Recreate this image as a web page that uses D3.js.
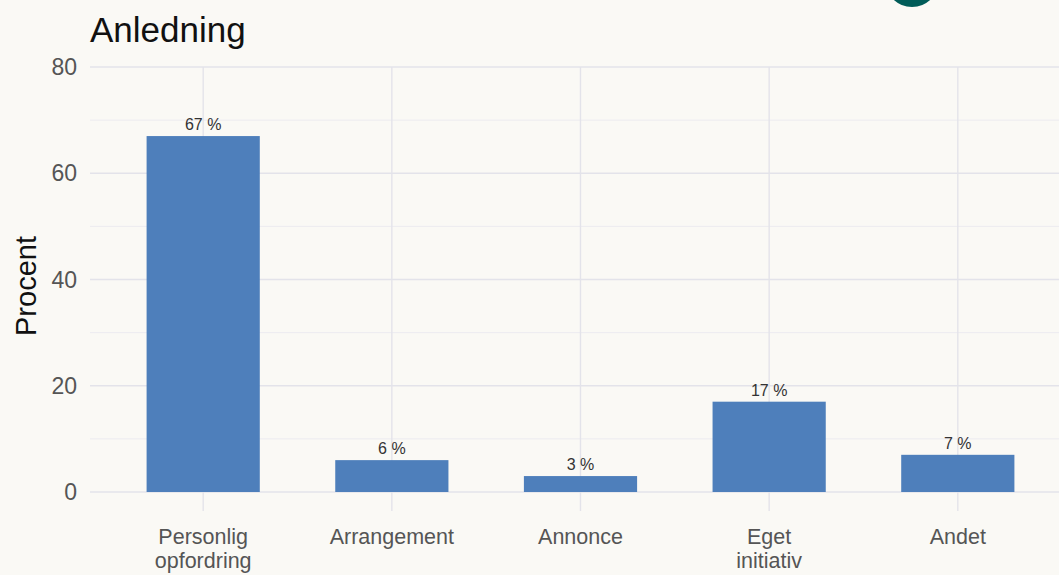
<!DOCTYPE html>
<html>
<head>
<meta charset="utf-8">
<script src="https://cdn.jsdelivr.net/npm/d3@7"></script>
<style>
  body { margin: 0; background: #faf9f5; }
  svg { display: block; font-family: "Liberation Sans", Arial, sans-serif; }
</style>
</head>
<body>
<svg id="chart" width="1059" height="575"></svg>
<script>
const categories = ["Personlig\nopfordring", "Arrangement", "Annonce", "Eget\ninitiativ", "Andet"]
const values = [67, 6, 3, 17, 7]
const yTicks = [0, 20, 40, 60, 80]
const yMinor = [10, 30, 50, 70]

const drawChart = () => {
    let svg = d3.select("#chart"),
        width = +svg.attr("width"),
        height = +svg.attr("height");

    let left = 90, right = 1071, top = 67, bottom = 492

    svg.append("rect").attr("width", width).attr("height", height).attr("fill", "#faf9f5")

    // ggplot-style discrete axis: 0.6 step expansion each side
    let step = (right - left) / (categories.length - 1 + 1.2)
    let x = d3.scalePoint()
        .domain(categories)
        .range([left + 0.6 * step, right - 0.6 * step])
    let barW = step * 0.6

    let y = d3.scaleLinear().domain([0, 80]).range([bottom, top])

    let grid = svg.append("g")
    grid.selectAll(".minor")
        .data(yMinor).enter()
        .append("line")
        .attr("x1", left).attr("x2", right)
        .attr("y1", d => y(d)).attr("y2", d => y(d))
        .attr("stroke", "#ecebf0")
        .attr("stroke-width", 1)
    grid.selectAll(".major")
        .data(yTicks).enter()
        .append("line")
        .attr("x1", left).attr("x2", right)
        .attr("y1", d => y(d)).attr("y2", d => y(d))
        .attr("stroke", "#e3e3ea")
        .attr("stroke-width", 1.4)
    grid.selectAll(".vert")
        .data(categories).enter()
        .append("line")
        .attr("x1", d => x(d)).attr("x2", d => x(d))
        .attr("y1", top).attr("y2", bottom + 19)
        .attr("stroke", "#e3e3ea")
        .attr("stroke-width", 1.4)

    svg.selectAll(".bar")
        .data(values).enter()
        .append("rect")
        .attr("x", (d, i) => x(categories[i]) - barW / 2)
        .attr("width", barW)
        .attr("y", d => y(d))
        .attr("height", d => y(0) - y(d))
        .attr("fill", "#4e7fbb")

    svg.selectAll(".lbl")
        .data(values).enter()
        .append("text")
        .attr("x", (d, i) => x(categories[i]))
        .attr("y", d => y(d) - 6)
        .attr("text-anchor", "middle")
        .attr("font-size", 16)
        .attr("fill", "#333")
        .text(d => d + " %")

    // y tick labels
    svg.selectAll(".ytl")
        .data(yTicks).enter()
        .append("text")
        .attr("x", 77)
        .attr("y", d => y(d))
        .attr("dy", "0.35em")
        .attr("text-anchor", "end")
        .attr("font-size", 23)
        .attr("fill", "#555")
        .text(d => d)

    // x tick labels
    svg.selectAll(".xtl")
        .data(categories).enter()
        .append("text")
        .attr("text-anchor", "middle")
        .attr("font-size", 21.5)
        .attr("fill", "#555")
        .each(function (d) {
            let t = d3.select(this)
            d.split("\n").forEach((line, i) => {
                t.append("tspan")
                    .attr("x", x(d))
                    .attr("y", 544 + i * 24)
                    .text(line)
            })
        })

    svg.append("text")
        .attr("transform", "translate(36," + 286 + ") rotate(-90)")
        .attr("text-anchor", "middle")
        .attr("font-size", 29)
        .attr("fill", "#111")
        .text("Procent")

    svg.append("text")
        .attr("x", 90)
        .attr("y", 42)
        .attr("font-size", 35)
        .attr("fill", "#111")
        .text("Anledning")

    svg.append("circle")
        .attr("cx", 912)
        .attr("cy", -20)
        .attr("r", 27)
        .attr("fill", "#005c58")
}

drawChart()
</script>
</body>
</html>
